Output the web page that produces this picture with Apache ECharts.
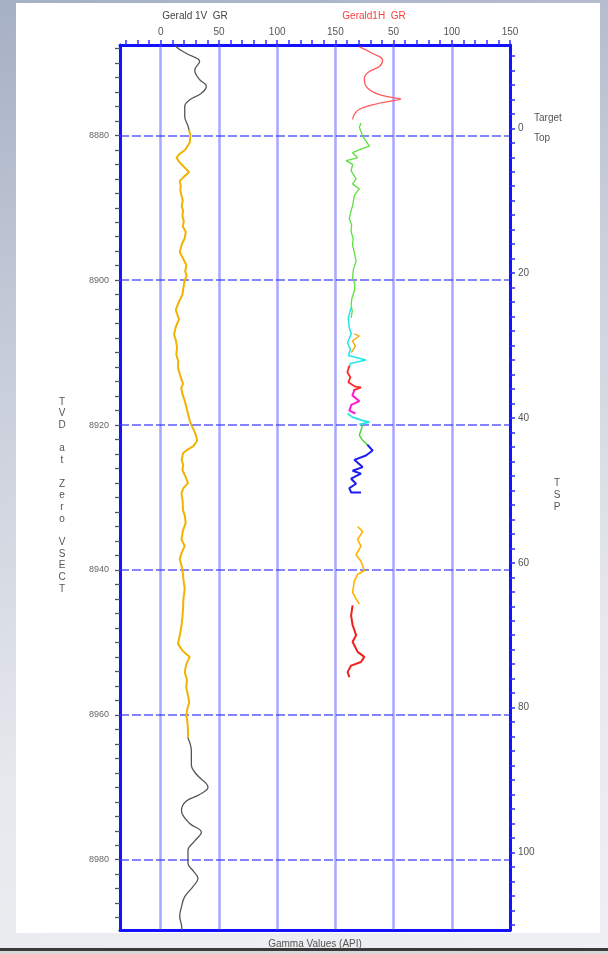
<!DOCTYPE html>
<html>
<head>
<meta charset="utf-8">
<script src="https://cdn.jsdelivr.net/npm/echarts@6/dist/echarts.min.js"></script>
<style>
html,body{margin:0;padding:0;width:608px;height:954px;overflow:hidden;}
body{background:linear-gradient(165deg,#a6b0c4 0%,#c9cfdb 35%,#e6e8ed 70%,#eef0f3 100%);position:relative;}
#panel{position:absolute;left:16px;top:3px;width:584px;height:930px;background:#fff;}
#bline{position:absolute;left:0;top:948px;width:608px;height:3px;background:#3a3a3a;}
#bfoot{position:absolute;left:0;top:951px;width:608px;height:3px;background:#d8d8d8;}
#c{position:absolute;left:0;top:0;width:608px;height:954px;}
</style>
</head>
<body>
<div id="panel"></div>
<div id="bline"></div>
<div id="bfoot"></div>
<div id="c"></div>
<script>
// ---- tick labels ----
const gammaLabelValues = [0, 50, 100, 150, 200, 250, 300];
const tvdLabels = [8880, 8900, 8920, 8940, 8960, 8980];
const tspLabels = [0, 20, 40, 60, 80, 100];
const gridGammaLines = [0, 50, 100, 150, 200, 250];

// ---- Gerald 1V GR (left track) : [gamma API, TVD] ----
const v1TopGray = [[13.0,8867.5],[13.5,8867.8],[22.0,8868.7],[33.4,8869.8],[29.2,8871.0],[33.4,8872.3],[39.2,8873.2],[34.9,8874.2],[24.9,8875.1],[20.6,8876.0],[20.6,8877.4],[23.4,8878.7],[24.3,8879.3]];
const v1Orange = [[24.3,8879.3],[25.5,8880.0],[24.9,8881.0],[21.0,8882.0],[16.0,8882.6],[13.5,8883.1],[15.5,8883.6],[17.8,8884.0],[21.5,8884.6],[24.3,8885.1],[20.0,8885.7],[16.3,8886.3],[17.2,8887.0],[16.8,8887.6],[17.8,8888.3],[18.9,8889.0],[18.0,8889.8],[19.2,8890.4],[18.6,8891.1],[19.8,8891.9],[18.9,8892.6],[21.5,8893.3],[20.6,8894.2],[18.2,8895.0],[16.3,8896.1],[18.5,8896.8],[22.0,8897.9],[21.0,8898.8],[22.3,8899.4],[20.6,8900.0],[19.5,8901.0],[18.6,8902.0],[15.5,8903.0],[12.9,8904.1],[15.7,8905.4],[13.0,8906.4],[11.4,8907.5],[13.0,8908.3],[14.0,8909.3],[13.4,8910.3],[15.0,8911.2],[14.8,8912.1],[16.8,8913.2],[19.1,8914.3],[17.6,8914.9],[18.6,8915.7],[20.5,8916.6],[22.0,8917.5],[23.5,8918.5],[24.9,8919.4],[26.3,8920.0],[28.8,8920.8],[30.6,8921.6],[31.2,8922.2],[28.0,8922.9],[22.0,8923.5],[19.1,8923.9],[18.0,8924.8],[19.3,8925.5],[18.6,8926.2],[21.5,8927.2],[23.4,8928.0],[19.5,8928.7],[17.8,8929.4],[18.8,8930.5],[19.1,8931.7],[20.8,8932.6],[21.4,8933.5],[19.0,8934.6],[17.8,8935.8],[20.6,8936.7],[18.0,8937.6],[16.3,8938.5],[18.6,8939.9],[19.4,8941.2],[20.6,8942.6],[19.5,8944.0],[19.1,8945.4],[18.6,8946.5],[17.8,8947.7],[16.5,8948.9],[14.8,8950.2],[19.0,8951.2],[24.9,8952.0],[22.0,8953.0],[20.6,8954.1],[22.5,8955.2],[21.8,8956.2],[23.4,8957.3],[24.5,8958.3],[22.8,8959.2],[22.0,8960.0],[23.0,8961.1],[23.4,8962.3],[23.4,8963.2]];
const v1BottomGray = [[23.4,8963.2],[26.3,8965.0],[26.3,8966.9],[30.6,8968.2],[40.6,8970.0],[33.4,8971.0],[22.0,8971.9],[17.8,8973.2],[24.9,8975.0],[34.9,8976.2],[29.2,8977.4],[23.4,8978.7],[23.4,8980.5],[27.7,8981.5],[32.0,8982.6],[27.7,8983.7],[20.6,8985.1],[17.8,8986.5],[16.3,8987.8],[17.8,8989.0],[18.2,8989.7]];

// ---- Gerald1H GR (right track) : [gamma API, TVD] ----
const h1RedTop = [[20.6,8867.8],[32.0,8868.7],[40.6,8869.6],[37.7,8870.5],[29.2,8871.2],[24.9,8872.1],[26.3,8873.2],[34.9,8874.2],[49.1,8874.8],[56.3,8875.0],[46.3,8875.3],[32.0,8875.8],[20.6,8876.4],[16.3,8877.1],[14.8,8877.8]];
const h1Green = [[22.0,8878.3],[20.6,8878.9],[23.4,8880.1],[29.2,8881.5],[22.0,8881.9],[14.8,8882.4],[19.1,8883.1],[9.2,8883.5],[14.8,8884.0],[13.5,8884.9],[17.8,8886.0],[14.8,8886.7],[20.6,8887.4],[16.3,8888.3],[14.8,8889.7],[13.2,8890.6],[12.0,8891.5],[14.0,8892.4],[13.5,8893.3],[15.2,8894.2],[14.8,8895.2],[16.5,8896.3],[17.8,8897.4],[15.5,8898.5],[14.8,8899.7],[16.8,8900.6],[16.3,8901.5],[14.2,8902.5],[13.5,8903.4],[14.5,8904.3],[13.5,8905.2]];
const h1Cyan1 = [[13.5,8903.8],[11.1,8905.2],[12.0,8906.6],[13.7,8907.4],[10.5,8908.6],[12.9,8909.6],[11.1,8910.4],[26.3,8911.0],[12.9,8911.5],[12.0,8912.1]];
const h1OrangeMid = [[16.3,8907.4],[20.6,8907.7],[14.6,8908.4],[17.2,8909.1],[13.7,8910.0]];
const h1RedMid = [[12.0,8911.8],[10.3,8912.7],[12.9,8913.4],[11.1,8914.1],[17.2,8914.7],[22.0,8914.8],[15.4,8915.2]];
const h1Magenta = [[16.3,8915.2],[14.6,8915.9],[20.6,8916.7],[13.7,8917.2],[12.0,8918.0],[17.2,8918.4]];
const h1Cyan2 = [[10.5,8918.4],[14.6,8918.9],[22.3,8919.3],[29.2,8919.6],[20.6,8919.9]];
const h1GreenMid = [[23.4,8920.0],[22.0,8920.7],[20.6,8921.4],[23.4,8922.1],[27.4,8922.7]];
const h1Blue = [[27.4,8922.7],[32.0,8923.5],[26.3,8924.2],[16.3,8924.8],[23.4,8925.8],[14.8,8926.3],[22.0,8926.7],[13.5,8927.4],[17.8,8928.1],[12.0,8928.7],[13.5,8929.3],[22.0,8929.3]];
const h1OrangeLow = [[19.1,8934.0],[23.4,8934.7],[19.1,8935.8],[22.0,8936.7],[17.8,8937.9],[22.0,8938.8],[24.9,8940.1],[19.1,8940.6],[16.3,8941.5],[14.8,8943.1],[17.8,8944.0],[20.6,8944.7]];
const h1RedLow = [[14.8,8944.9],[13.5,8946.3],[14.8,8947.6],[17.8,8949.0],[14.8,8949.9],[19.1,8951.3],[24.9,8952.0],[22.0,8952.7],[13.5,8953.2],[10.5,8954.1],[12.0,8954.8]];

function range(a, b, s){ const r=[]; for(let v=a; v<=b+1e-9; v+=s) r.push(+v.toFixed(3)); return r; }

const BLUE = '#1212ff';
const chart = echarts.init(document.getElementById('c'), null, {width:608, height:954});

function line(data, color, width, xIdx, extra){
  return Object.assign({
    type:'line', data:data, xAxisIndex:xIdx, yAxisIndex:0,
    showSymbol:false, symbol:'none', smooth:false, animation:false, silent:true,
    lineStyle:{color:color, width:width}, z:5
  }, extra||{});
}

const markLineData = gridGammaLines.map(v => ({xAxis:v, lineStyle:{color:'rgba(80,80,255,0.5)', width:2.5, type:'solid'}}))
  .concat(tvdLabels.map(v => ({yAxis:v, lineStyle:{color:'rgba(50,50,255,0.8)', width:1.5, type:[9,3]}})));

const option = {
  animation:false,
  textStyle:{fontFamily:'Liberation Sans, Arial, sans-serif'},
  grid:{left:120, right:98, top:45, bottom:17, containLabel:false},
  xAxis:[
    {type:'value', position:'top', min:-35, max:300,
     axisLine:{show:true, onZero:false, lineStyle:{color:BLUE, width:3}},
     axisTick:{show:true, inside:false, length:5, customValues:range(-30,300,10), lineStyle:{color:'#3030ff', width:1.5}},
     axisLabel:{show:true, customValues:gammaLabelValues, margin:8, fontSize:10, color:'#555',
       formatter:function(v){ return v > 150 ? String(v-150) : String(v); }},
     splitLine:{show:false}},
    {type:'value', position:'top', min:-185, max:150, show:false},
    {type:'value', position:'bottom', min:-35, max:300,
     axisLine:{show:true, onZero:false, lineStyle:{color:BLUE, width:3}},
     axisTick:{show:false}, axisLabel:{show:false}, splitLine:{show:false},
     name:'Gamma Values (API)', nameLocation:'middle', nameGap:9,
     nameTextStyle:{fontSize:10, color:'#555'}}
  ],
  yAxis:[
    {type:'value', position:'left', inverse:true, min:8867.53, max:8989.7,
     axisLine:{show:true, onZero:false, lineStyle:{color:BLUE, width:3}},
     axisTick:{show:true, inside:false, length:5, customValues:range(8868,8988,2), lineStyle:{color:'#50507a', width:1.3}},
     axisLabel:{show:true, customValues:tvdLabels, margin:11, fontSize:9, color:'#666',
       formatter:function(v){ return String(v); }},
     splitLine:{show:false}},
    {type:'value', position:'right', inverse:true, min:-11.5, max:110.7,
     axisLine:{show:true, onZero:false, lineStyle:{color:BLUE, width:3}},
     axisTick:{show:true, inside:false, length:5, customValues:range(-10,110,2), lineStyle:{color:'#2a2aff', width:1.5}},
     axisLabel:{show:true, customValues:tspLabels, margin:8, fontSize:10, color:'#555',
       formatter:function(v){ return String(v); }},
     splitLine:{show:false}}
  ],
  graphic:[
    {type:'text', x:195, y:16, style:{text:'Gerald 1V  GR', fill:'#444', font:'10px "Liberation Sans"', textAlign:'center', textVerticalAlign:'middle'}},
    {type:'text', x:374, y:16, style:{text:'Gerald1H  GR', fill:'#ff3c3c', font:'10px "Liberation Sans"', textAlign:'center', textVerticalAlign:'middle'}},
    {type:'text', x:534, y:118, style:{text:'Target', fill:'#555', font:'10px "Liberation Sans"', textAlign:'left', textVerticalAlign:'middle'}},
    {type:'text', x:534, y:138, style:{text:'Top', fill:'#555', font:'10px "Liberation Sans"', textAlign:'left', textVerticalAlign:'middle'}},
    {type:'text', x:62, y:396, style:{text:'T\nV\nD\n\na\nt\n\nZ\ne\nr\no\n\nV\nS\nE\nC\nT', fill:'#555', font:'10px "Liberation Sans"', lineHeight:11.7, textAlign:'center', textVerticalAlign:'top'}},
    {type:'text', x:557, y:477, style:{text:'T\nS\nP', fill:'#555', font:'10px "Liberation Sans"', lineHeight:12, textAlign:'center', textVerticalAlign:'top'}}
  ],
  series:[
    line(v1TopGray, '#555555', 1.3, 0, {smooth:0.4, markLine:{silent:true, symbol:'none', label:{show:false}, animation:false, data:markLineData, z:1}}),
    line(v1Orange, '#f2b300', 2, 0),
    line(v1BottomGray, '#555555', 1.3, 0, {smooth:0.4}),
    line(h1RedTop, '#ff5a5a', 1.3, 1, {smooth:0.4}),
    line(h1Green, '#5be03c', 1.3, 1),
    line(h1Cyan1, '#22e6e6', 1.5, 1),
    line(h1OrangeMid, '#f0a800', 1.3, 1),
    line(h1RedMid, '#ff2a2a', 1.8, 1),
    line(h1Magenta, '#ff1ad0', 2, 1),
    line(h1Cyan2, '#22e6e6', 1.8, 1),
    line(h1GreenMid, '#4cd83c', 1.5, 1),
    line(h1Blue, '#1c1cf0', 2, 1),
    line(h1OrangeLow, '#ffb400', 1.6, 1),
    line(h1RedLow, '#f02020', 2, 1)
  ]
};
chart.setOption(option);
</script>
</body>
</html>
